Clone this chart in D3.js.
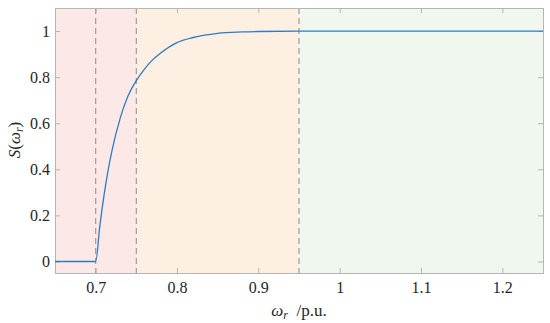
<!DOCTYPE html>
<html>
<head>
<meta charset="utf-8">
<script src="https://cdn.jsdelivr.net/npm/d3@7"></script>
<style>
  body { margin: 0; background: #fff; }
  svg text { font-family: "Liberation Serif", "Times New Roman", Tinos, "DejaVu Serif", "Noto Serif", serif !important; fill: #262626; }
</style>
</head>
<body>
<div id="chart"></div>
<script>
// Chart size
var svgWidth = 550;
var svgHeight = 323;

var margin = { top: 8, bottom: 50, left: 55, right: 7 };
var width = svgWidth - margin.left - margin.right;
var height = svgHeight - margin.top - margin.bottom;

// Data
var speed = [0.65, 0.70, 0.705, 0.71, 0.715, 0.72, 0.73, 0.74, 0.75, 0.76, 0.77, 0.78, 0.80, 0.82, 0.85, 0.88, 0.90, 0.95, 1.00, 1.25];
var score = [0, 0, 0.15, 0.28, 0.39, 0.48, 0.62, 0.72, 0.785, 0.835, 0.875, 0.905, 0.95, 0.972, 0.99, 0.996, 0.998, 1, 1, 1];

var regionStart = [0.65, 0.75, 0.95];
var regionEnd = [0.75, 0.95, 1.25];
var regionColor = ["#fde8e8", "#fdefe2", "#eff7ee"];

var dashedAt = [0.70, 0.75, 0.95];

var xTicks = [0.7, 0.8, 0.9, 1, 1.1, 1.2];
var yTicks = [0, 0.2, 0.4, 0.6, 0.8, 1];

var serif = '"Liberation Serif", "Times New Roman", Tinos, "DejaVu Serif", serif';

var svg = d3.select("#chart")
    .append("svg")
    .attr("width", svgWidth)
    .attr("height", svgHeight)
    .style("font-family", serif);

var chartGroup = svg.append("g")
    .attr("transform", `translate(${margin.left}, ${margin.top})`);

var x = d3.scaleLinear().domain([0.65, 1.25]).range([0, width]);
var y = d3.scaleLinear().domain([-0.05, 1.1]).range([height, 0]);

// Background regions
chartGroup.selectAll(".region")
    .data(regionStart)
    .enter()
    .append("rect")
    .attr("x", d => x(d))
    .attr("y", 0)
    .attr("width", (d, i) => x(regionEnd[i]) - x(d))
    .attr("height", height)
    .attr("fill", (d, i) => regionColor[i]);

// Dashed lines
chartGroup.selectAll(".dash")
    .data(dashedAt)
    .enter()
    .append("line")
    .attr("x1", d => x(d))
    .attr("x2", d => x(d))
    .attr("y1", 0)
    .attr("y2", height)
    .attr("stroke", "#a09a96")
    .attr("stroke-width", 1.2)
    .attr("stroke-dasharray", "6,4");

// Axes (MATLAB style, ticks inside, box all round)
var tickColor = "#b5b5b5";
var bottomAxis = d3.axisBottom(x).tickValues(xTicks).tickSize(-5).tickPadding(9).tickFormat(d3.format("~g"));
var topAxis = d3.axisTop(x).tickValues(xTicks).tickSize(-5).tickFormat("");
var leftAxis = d3.axisLeft(y).tickValues(yTicks).tickSize(-5).tickPadding(5).tickFormat(d3.format("~g"));
var rightAxis = d3.axisRight(y).tickValues(yTicks).tickSize(-5).tickFormat("");

var axes = [
    chartGroup.append("g").attr("transform", `translate(0, ${height})`).call(bottomAxis),
    chartGroup.append("g").call(topAxis),
    chartGroup.append("g").call(leftAxis),
    chartGroup.append("g").attr("transform", `translate(${width}, 0)`).call(rightAxis)
];
axes.forEach(function (a) {
    a.attr("font-family", serif);
    a.selectAll("path").attr("stroke", tickColor);
    a.selectAll("line").attr("stroke", tickColor);
    a.selectAll("text").style("font-size", "16px").style("font-family", serif).attr("fill", "#262626");
});

// Curve
var points = speed.map((s, i) => [s, score[i]]);
var line = d3.line()
    .x(d => x(d[0]))
    .y(d => y(d[1]))
    .curve(d3.curveMonotoneX);

chartGroup.append("path")
    .datum(points)
    .attr("fill", "none")
    .attr("stroke", "#2f7bbf")
    .attr("stroke-width", 1.3)
    .attr("d", line);

// Axis labels
var xLabel = chartGroup.append("text")
    .attr("x", width / 2)
    .attr("y", height + 43)
    .attr("text-anchor", "middle")
    .style("font-family", serif)
    .style("font-size", "17px");
xLabel.append("tspan").style("font-style", "italic").text("ω");
xLabel.append("tspan").style("font-style", "italic").style("font-size", "12px").attr("dy", 3).text("r");
xLabel.append("tspan").attr("dy", -3).text("\u00a0\u00a0/p.u.");

var yLabel = chartGroup.append("text")
    .attr("transform", "rotate(-90)")
    .attr("x", -(140 - margin.top))
    .attr("y", -35)
    .attr("text-anchor", "middle")
    .style("font-family", serif)
    .style("font-size", "17px");
yLabel.append("tspan").style("font-style", "italic").text("S");
yLabel.append("tspan").text("(");
yLabel.append("tspan").style("font-style", "italic").text("ω");
yLabel.append("tspan").style("font-style", "italic").style("font-size", "12px").attr("dy", 3).text("r");
yLabel.append("tspan").attr("dy", -3).text(")");
</script>
</body>
</html>
